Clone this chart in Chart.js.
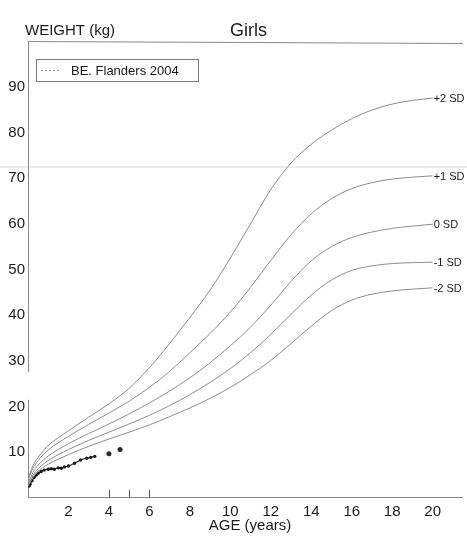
<!DOCTYPE html>
<html>
<head>
<meta charset="utf-8">
<script src="https://cdn.jsdelivr.net/npm/chart.js@4.4.1/dist/chart.umd.min.js"></script>
<style>
  html, body { margin: 0; padding: 0; background: #fff; }
  canvas { display: block; }
</style>
</head>
<body>
<canvas id="c" width="467" height="537"></canvas>
<script>
// Age grid (years) for the reference curves
const ages = [0, 0.25, 0.5, 1, 1.5, 2, 3, 4, 5, 6, 7, 8, 9, 10, 11, 12, 13, 14, 15, 16, 17, 18, 19, 20];

// Weight-for-age reference curves, girls (kg)
const sdPlus2  = [4.3, 7.1, 8.9, 11.5, 13.2, 14.7, 17.7, 20.6, 24.0, 28.5, 33.8, 39.5, 45.5, 52.5, 60.0, 67.5, 73.3, 77.4, 80.5, 83.0, 84.9, 86.2, 87.0, 87.5];
const sdPlus1  = [3.9, 6.5, 8.2, 10.5, 12.1, 13.5, 16.1, 18.6, 21.2, 24.2, 27.7, 31.8, 36.0, 40.7, 46.1, 52.0, 57.6, 62.2, 65.5, 67.7, 69.0, 69.8, 70.2, 70.5];
const sdZero   = [3.3, 5.6, 7.2, 9.2, 10.6, 11.9, 14.1, 16.2, 18.4, 20.8, 23.4, 26.3, 29.6, 33.3, 37.4, 42.2, 47.4, 51.9, 55.0, 57.0, 58.2, 59.0, 59.5, 59.9];
const sdMinus1 = [2.9, 5.0, 6.4, 8.2, 9.5, 10.6, 12.6, 14.4, 16.2, 18.1, 20.2, 22.6, 25.3, 28.3, 31.8, 35.8, 40.2, 44.4, 47.7, 49.8, 50.8, 51.3, 51.5, 51.6];
const sdMinus2 = [2.6, 4.5, 5.8, 7.4, 8.5, 9.5, 11.3, 12.9, 14.4, 16.0, 17.8, 19.7, 21.8, 24.2, 27.0, 30.1, 33.8, 37.6, 41.0, 43.3, 44.6, 45.3, 45.7, 46.0];
const sdLabels = ['+2 SD', '+1 SD', '0 SD', '-1 SD', '-2 SD'];

// Measured child: ages (years) and weights (kg)
const childAges    = [0.05, 0.1, 0.2, 0.3, 0.4, 0.5, 0.65, 0.8, 1.0, 1.15, 1.3, 1.5, 1.65, 1.8, 2.0, 2.3, 2.6, 2.9, 3.1, 3.3];
const childWeights = [2.6, 3.0, 3.8, 4.5, 5.0, 5.4, 5.8, 6.1, 6.3, 6.4, 6.3, 6.6, 6.5, 6.8, 7.0, 7.6, 8.3, 8.7, 8.9, 9.1];
const laterAges    = [4.0, 4.55];
const laterWeights = [9.7, 10.6];

// Small age markers on the x axis
const markerAges = [4, 5, 6];

// Axis ticks
const xTicks = [2, 4, 6, 8, 10, 12, 14, 16, 18, 20];
const yTicks = [10, 20, 30, 40, 50, 60, 70, 80, 90];

const FONT = '"Liberation Sans", Arial, Helvetica, sans-serif';
const INK = '#1a1a1a';
const CURVE = '#8c8c8c';
const AXIS = '#8a8a8a';

const pts = (xs, ys) => xs.map((x, i) => ({ x: x, y: ys[i] }));

const curveSets = [sdPlus2, sdPlus1, sdZero, sdMinus1, sdMinus2].map((vals, i) => ({
  label: sdLabels[i],
  data: pts(ages, vals),
  borderColor: CURVE,
  borderWidth: 1,
  pointRadius: 0,
  cubicInterpolationMode: 'monotone',
  fill: false
}));

const chartDecor = {
  id: 'chartDecor',
  beforeDatasetsDraw(chart) {
    const { ctx, chartArea: a, scales: { x, y } } = chart;
    ctx.save();
    // faint horizontal crease across the sheet
    ctx.strokeStyle = 'rgba(215,215,215,0.6)';
    ctx.lineWidth = 1.5;
    ctx.beginPath();
    ctx.moveTo(0, 167);
    ctx.lineTo(chart.width, 167);
    ctx.stroke();

    // frame: top line, broken y axis, x axis
    ctx.strokeStyle = AXIS;
    ctx.lineWidth = 1;
    ctx.beginPath();
    ctx.moveTo(a.left + 0.5, a.top + 0.5);
    ctx.lineTo(a.right, a.top + 2.5);
    ctx.moveTo(a.left + 0.5, a.top);
    ctx.lineTo(a.left + 0.5, y.getPixelForValue(27.5));
    ctx.moveTo(a.left + 0.5, y.getPixelForValue(21.5));
    ctx.lineTo(a.left + 0.5, a.bottom);
    ctx.moveTo(a.left, a.bottom - 0.5);
    ctx.lineTo(a.right, a.bottom - 0.5);
    ctx.stroke();

    // age markers
    ctx.strokeStyle = '#555';
    ctx.beginPath();
    markerAges.forEach(v => {
      const px = Math.round(x.getPixelForValue(v)) + 0.5;
      ctx.moveTo(px, a.bottom - 1);
      ctx.lineTo(px, a.bottom - 8);
    });
    ctx.stroke();
    ctx.restore();
  },
  afterDatasetsDraw(chart) {
    const { ctx, scales: { x, y } } = chart;
    ctx.save();
    // curve labels at the end of each reference line
    ctx.fillStyle = INK;
    ctx.font = '11px ' + FONT;
    ctx.textBaseline = 'middle';
    ctx.textAlign = 'left';
    for (let i = 0; i < 5; i++) {
      const d = chart.data.datasets[i].data;
      const last = d[d.length - 1];
      ctx.fillText(sdLabels[i], x.getPixelForValue(last.x) + 1, y.getPixelForValue(last.y) + 1);
    }

    // headings
    ctx.font = '15px ' + FONT;
    ctx.fillText('WEIGHT (kg)', 25, 31);
    ctx.font = '18px ' + FONT;
    ctx.fillText('Girls', 230, 31);
    ctx.font = '15px ' + FONT;
    ctx.textAlign = 'center';
    ctx.fillText('AGE (years)', 250, 526);

    // legend box
    ctx.strokeStyle = '#7a7a7a';
    ctx.lineWidth = 1;
    ctx.strokeRect(36.5, 59.5, 162, 22);
    ctx.strokeStyle = '#999';
    ctx.setLineDash([2, 2]);
    ctx.beginPath();
    ctx.moveTo(41, 70.5);
    ctx.lineTo(61, 70.5);
    ctx.stroke();
    ctx.setLineDash([]);
    ctx.font = '13px ' + FONT;
    ctx.textAlign = 'left';
    ctx.fillText('BE. Flanders 2004', 71, 71);
    ctx.restore();
  }
};

new Chart(document.getElementById('c'), {
  type: 'line',
  data: {
    datasets: [
      ...curveSets,
      {
        label: 'child',
        data: pts(childAges, childWeights),
        borderColor: '#2a2a2a',
        backgroundColor: '#1a1a1a',
        borderWidth: 1.2,
        pointRadius: 1.7,
        pointBorderWidth: 0,
        tension: 0.2,
        fill: false
      },
      {
        label: 'child later',
        data: pts(laterAges, laterWeights),
        showLine: false,
        backgroundColor: '#2a2a2a',
        borderWidth: 0,
        pointRadius: 2.5
      }
    ]
  },
  options: {
    responsive: false,
    animation: false,
    events: [],
    layout: { padding: { top: 41, left: 0, right: 0, bottom: 0 } },
    plugins: { legend: { display: false }, tooltip: { enabled: false }, title: { display: false } },
    scales: {
      x: {
        type: 'linear',
        min: 0,
        max: 21.5,
        afterFit(s) { s.height = 39; },
        afterBuildTicks(s) { s.ticks = xTicks.map(v => ({ value: v })); },
        grid: { display: false, drawTicks: false },
        border: { display: false },
        ticks: { color: INK, font: { size: 15, family: FONT }, padding: 5, maxRotation: 0, autoSkip: false }
      },
      y: {
        type: 'linear',
        min: 0,
        max: 100,
        afterFit(s) { s.width = 28; },
        afterBuildTicks(s) { s.ticks = yTicks.map(v => ({ value: v })); },
        grid: { display: false, drawTicks: false },
        border: { display: false },
        ticks: { color: INK, font: { size: 15, family: FONT }, padding: 3, autoSkip: false }
      }
    }
  },
  plugins: [chartDecor]
});
</script>
</body>
</html>
